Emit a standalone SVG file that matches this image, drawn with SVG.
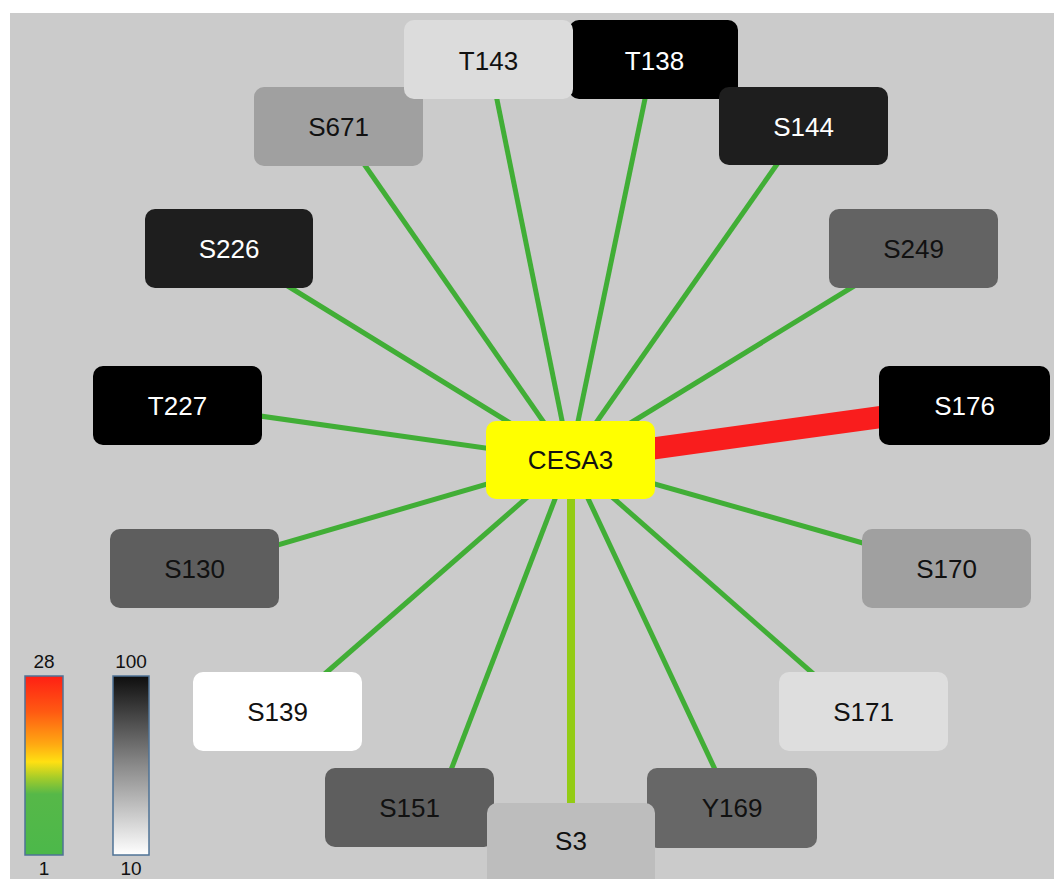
<svg xmlns="http://www.w3.org/2000/svg" width="1054" height="879" viewBox="0 0 1054 879">
<defs>
<style>
.n rect{rx:10px;ry:10px}
.n text{font-family:"Liberation Sans",Arial,sans-serif;font-size:26px;text-anchor:middle}
.dk{fill:#111}
.lt{fill:#fff}
.e{stroke:#41ae36;stroke-width:5;stroke-linecap:butt;fill:none}
.lg{font-family:"Liberation Sans",Arial,sans-serif;font-size:19px;fill:#111;text-anchor:middle}
</style>
<linearGradient id="heat" x1="0" y1="0" x2="0" y2="1">
<stop offset="0" stop-color="#ff1f14"/>
<stop offset="0.2" stop-color="#ff5a12"/>
<stop offset="0.38" stop-color="#ffa812"/>
<stop offset="0.48" stop-color="#ffe012"/>
<stop offset="0.57" stop-color="#a4cc2a"/>
<stop offset="0.66" stop-color="#56b848"/>
<stop offset="1" stop-color="#4cb84a"/>
</linearGradient>
<linearGradient id="gray" x1="0" y1="0" x2="0" y2="1">
<stop offset="0" stop-color="#0e0e0e"/>
<stop offset="0.5" stop-color="#8a8a8a"/>
<stop offset="1" stop-color="#ffffff"/>
</linearGradient>
</defs>
<rect x="0" y="0" width="1054" height="879" fill="#ffffff"/>
<rect x="10" y="13" width="1044" height="866" fill="#cbcbcb"/>

<g id="connectors">
<line class="e" x1="570" y1="460" x2="491" y2="70"/>
<line class="e" x1="570" y1="460" x2="651" y2="70"/>
<line class="e" x1="570" y1="460" x2="794" y2="140"/>
<line class="e" x1="570" y1="460" x2="348" y2="141"/>
<line class="e" x1="570" y1="460" x2="265" y2="272"/>
<line class="e" x1="570" y1="460" x2="877" y2="272"/>
<line class="e" x1="570" y1="460" x2="232" y2="412"/>
<line class="e" x1="570" y1="460" x2="250" y2="553"/>
<line class="e" x1="570" y1="460" x2="891" y2="551"/>
<line class="e" x1="570" y1="460" x2="304" y2="692"/>
<line class="e" x1="570" y1="460" x2="834" y2="692"/>
<line class="e" x1="570" y1="460" x2="441" y2="796"/>
<line class="e" x1="570" y1="460" x2="727" y2="795"/>
<line x1="571" y1="460" x2="571" y2="830" stroke="#93cc14" stroke-width="8"/>
<line x1="570" y1="460" x2="910" y2="413" stroke="#f91d1d" stroke-width="22"/>
</g>

<g id="node-S671" class="n"><rect x="254" y="87" width="169" height="79" fill="#a0a0a0"/><text x="338.5" y="136" class="dk">S671</text></g>
<g id="node-T138" class="n"><rect x="569" y="20" width="169" height="79" fill="#000000"/><text x="654.5" y="70" class="lt">T138</text></g>
<g id="node-T143" class="n"><rect x="404" y="20" width="169" height="79" fill="#dcdcdc"/><text x="488.5" y="70" class="dk">T143</text></g>
<g id="node-S144" class="n"><rect x="719" y="87" width="169" height="78" fill="#1e1e1e"/><text x="803.5" y="136" class="lt">S144</text></g>
<g id="node-S226" class="n"><rect x="145" y="209" width="168" height="79" fill="#1e1e1e"/><text x="229" y="258" class="lt">S226</text></g>
<g id="node-S249" class="n"><rect x="829" y="209" width="169" height="79" fill="#636363"/><text x="913.5" y="258" class="dk">S249</text></g>
<g id="node-T227" class="n"><rect x="93" y="366" width="169" height="79" fill="#000000"/><text x="177.5" y="415" class="lt">T227</text></g>
<g id="node-S176" class="n"><rect x="879" y="366" width="171" height="79" fill="#000000"/><text x="964.5" y="415" class="lt">S176</text></g>
<g id="node-CESA3" class="n"><rect x="486" y="421" width="169" height="78" fill="#ffff00"/><text x="570.5" y="469" class="dk">CESA3</text></g>
<g id="node-S130" class="n"><rect x="110" y="529" width="169" height="79" fill="#5e5e5e"/><text x="194.5" y="578" class="dk">S130</text></g>
<g id="node-S170" class="n"><rect x="862" y="529" width="169" height="79" fill="#a0a0a0"/><text x="946.5" y="578" class="dk">S170</text></g>
<g id="node-S139" class="n"><rect x="193" y="672" width="169" height="79" fill="#ffffff"/><text x="277.5" y="721" class="dk">S139</text></g>
<g id="node-S171" class="n"><rect x="779" y="672" width="169" height="79" fill="#dedede"/><text x="863.5" y="721" class="dk">S171</text></g>
<g id="node-S151" class="n"><rect x="325" y="768" width="169" height="79" fill="#5e5e5e"/><text x="409.5" y="817" class="dk">S151</text></g>
<g id="node-Y169" class="n"><rect x="647" y="768" width="170" height="80" fill="#676767"/><text x="732" y="817" class="dk">Y169</text></g>
<g id="node-S3" class="n"><rect x="487" y="803" width="168" height="90" fill="#bdbdbd"/><text x="571" y="850" class="dk">S3</text></g>

<g id="legend">
<rect x="25" y="676" width="38" height="179" fill="url(#heat)" stroke="#4f7396" stroke-width="1.5"/>
<rect x="113" y="676" width="36" height="179" fill="url(#gray)" stroke="#4f7396" stroke-width="1.5"/>
<text x="44" y="668" class="lg">28</text>
<text x="44" y="875" class="lg">1</text>
<text x="131" y="668" class="lg">100</text>
<text x="131" y="875" class="lg">10</text>
</g>
</svg>
